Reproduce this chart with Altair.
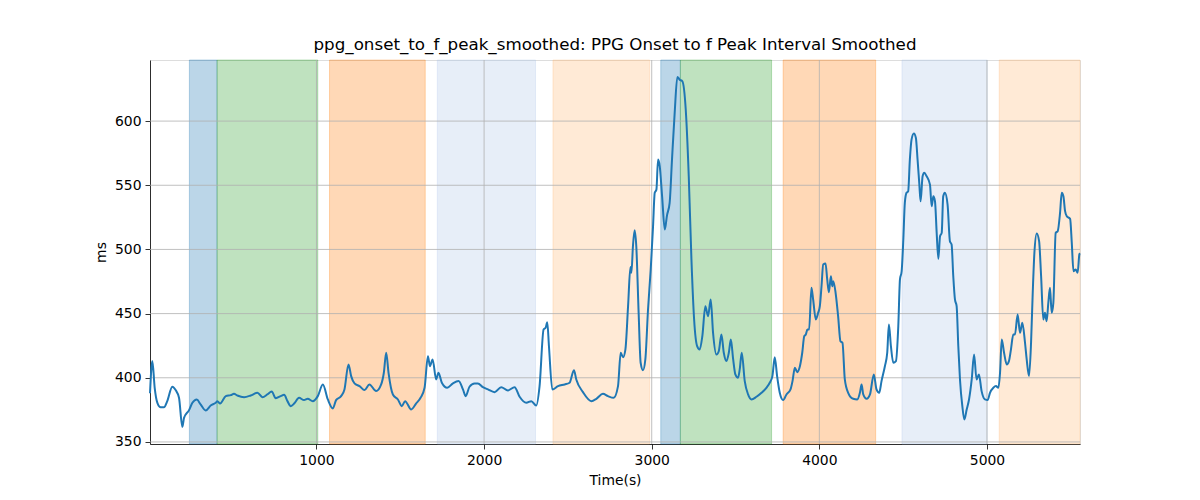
import altair as alt
import pandas as pd

# ---- line data (Time(s), ms) ----
t1 = [7, 21, 35, 51, 71, 90, 110, 140, 160, 180, 200, 210, 240, 260, 286, 309, 339, 369, 399, 409,
      425, 459, 489, 508, 528, 568, 608, 648, 678, 707, 733, 757, 787, 807, 827, 847, 867, 896, 926]
v1 = [388, 413, 392.2, 380.5, 377, 377, 381.8, 393, 390.4, 384.4, 361.8, 368.8, 374.8, 380.5, 383.1, 379.2, 374.5, 378.4, 380.5, 381.8,
      379.9, 385.7, 386.5, 387.5, 386.2, 384.9, 386.2, 388.3, 384.9, 387, 389.3, 384.1, 385.7, 386.7, 381.8, 377.9, 379.9, 384.4, 382.6]

t2 = [948, 978, 1008, 1038, 1068, 1098, 1117, 1147, 1167, 1191, 1207, 1227, 1257, 1287, 1316, 1356, 1386, 1402, 1416, 1430,
      1456, 1486, 1509, 1529, 1565, 1595, 1621, 1645, 1665, 1677, 1693, 1714, 1728, 1748, 1780, 1814, 1848, 1874]
v2 = [383.6, 381.8, 385.7, 394.8, 383.1, 376.1, 382.6, 385.7, 390.9, 410.4, 401.3, 395.6, 393.5, 390.4, 394.8, 389.6, 394.8, 403.9, 419.5, 403.9,
      387, 383.1, 377.9, 381.8, 375.3, 380, 384.4, 392.2, 416.8, 409, 414.3, 398.7, 403.9, 396.1, 392.2, 395.6, 397.4, 390.9]

t3 = [1890, 1913, 1943, 1963, 1993, 2023, 2063, 2102, 2142, 2182, 2212, 2252, 2282, 2311, 2331, 2355, 2367, 2377, 2387, 2407,
      2441, 2481, 2510, 2536, 2550, 2590, 2640, 2670, 2709, 2739, 2773]
v3 = [385.7, 393, 395.6, 395.6, 392.7, 390.9, 388.8, 392.7, 390.1, 392.7, 385.2, 380.5, 381.8, 378.4, 393.5, 437.6, 438.9, 443.3, 424.6, 390.9,
      393.5, 394.8, 396.1, 405.9, 398.7, 388.8, 381.8, 383.6, 387.5, 385.7, 384.4]

t4 = [2799, 2815, 2829, 2843, 2859, 2873, 2879, 2888, 2898, 2908, 2922, 2934, 2948, 2962, 2978, 2994, 3008, 3018, 3028, 3038,
      3048, 3062, 3078, 3091, 3107, 3121, 3137, 3153, 3167, 3183, 3203, 3221, 3237, 3253, 3271, 3286, 3302, 3320, 3336, 3352,
      3366, 3386, 3400, 3416, 3430, 3446, 3460, 3472, 3486, 3499, 3515, 3525, 3537, 3555, 3575, 3595, 3625, 3655, 3684]
v4 = [393.5, 419.5, 416, 422, 455.8, 486.4, 481.8, 502.5, 515, 502.5, 450.6, 411.7, 405.9, 414.3, 453.2, 484.3, 518.1, 544.1, 546.6, 570,
      564.8, 541.4, 515.5, 526.4, 536.3, 570, 606.4, 634.4, 632.3, 631, 609, 557, 492.1, 445.4, 424.6, 422, 432.4, 455.8, 448, 461,
      435, 418.1, 420.7, 433.7, 419.5, 413, 419.5, 429.8, 414.3, 402.6, 400, 406.5, 419.5, 397.4, 387, 383.1, 385.2, 388.3, 392.2]

t5 = [3704, 3720, 3734, 3748, 3764, 3784, 3804, 3828, 3840, 3854, 3868, 3884, 3898, 3910, 3919, 3929, 3939, 3953, 3963, 3979,
      3993, 4003, 4013, 4023, 4037, 4047, 4057, 4069, 4077, 4083, 4097, 4112, 4126, 4138, 4152, 4172, 4202, 4226, 4242, 4252,
      4262, 4282, 4302, 4325, 4341, 4357, 4371, 4391, 4405, 4415, 4427, 4441, 4457, 4471, 4481, 4491, 4501, 4510, 4520, 4530,
      4540, 4550, 4564, 4576, 4586, 4596, 4604, 4616, 4626, 4640]
v5 = [396.1, 401.3, 416, 401.3, 388.3, 382.6, 387, 390.9, 397.4, 407.8, 404.4, 409, 419.5, 432.4, 433.7, 437.6, 437.6, 470.1, 461, 445.4,
      450.6, 455.8, 471.3, 488.2, 489, 476.6, 466.7, 479.1, 471.3, 475.2, 466.2, 448, 428.5, 427.3, 398.7, 388.3, 383.6, 383.1, 388.3, 394.8,
      387, 383.6, 387, 402.6, 390.9, 388.3, 397.4, 409, 419.5, 441.5, 424.6, 411.7, 413, 440.2, 476.6, 483, 507.7, 536.3, 544.1, 545.3,
      570, 585.6, 590.3, 586.9, 570, 551.9, 537.5, 557, 559.7, 557]

t6 = [4660, 4670, 4680, 4690, 4700, 4710, 4720, 4730, 4739, 4749, 4765, 4779, 4789, 4799, 4809, 4819, 4829, 4839, 4853, 4865,
      4879, 4893, 4909, 4923, 4938, 4952, 4968, 4988, 5004, 5018, 5038, 5054, 5068, 5078, 5088, 5102, 5118, 5131, 5143, 5157,
      5167, 5183, 5197, 5211, 5227, 5237, 5251, 5263, 5273, 5283, 5297, 5311, 5323, 5336, 5346, 5356, 5366, 5376, 5386, 5396,
      5410, 5422, 5436, 5446, 5456, 5466, 5476, 5496, 5506, 5516, 5529, 5541, 5551, 5555]
v6 = [550.5, 533.6, 541.4, 537.5, 512.9, 492.7, 510.3, 512.9, 541.4, 544.1, 535, 506.4, 503.8, 479.1, 461, 455.8, 424.6, 398.7, 377.9, 367.5,
      375.3, 383.1, 398.7, 418.1, 398.7, 402.6, 389.6, 383.1, 382.6, 388.3, 392.2, 393.5, 392.2, 403.9, 429.8, 419.5, 410.4, 413, 422, 433.7,
      433.7, 449.3, 435, 442.8, 427.3, 414.3, 401.3, 427.3, 466.2, 497.4, 512.4, 506.4, 479.1, 445.4, 450.6, 444.1, 458.4, 470.1, 450.6, 458.4,
      512.9, 514.2, 528.5, 544.1, 541.4, 529.8, 525.9, 523.8, 505.1, 483, 484.3, 481.8, 496, 497]

time_s = t1 + t2 + t3 + t4 + t5 + t6
ms_vals = v1 + v2 + v3 + v4 + v5 + v6

# ---- shaded spans ----
span_start = [242, 407, 1078, 1721, 2411, 3054, 3171, 3784, 4493, 5073]
span_end = [407, 1008, 1649, 2307, 2988, 3171, 3715, 4336, 5002, 5555]
span_kind = ["k1", "k2", "k3", "k4", "k5", "k1", "k2", "k3", "k4", "k5"]
kind_names = ["k1", "k2", "k3", "k4", "k5"]
kind_colors = ["#1f77b4", "#2ca02c", "#ff7f0e", "#aec7e8", "#ffbb78"]

x_ticks = [1000, 2000, 3000, 4000, 5000]
y_ticks = [350, 400, 450, 500, 550, 600]
x_domain = [7, 5555]
y_domain = [348.4, 647.6]

line_df = pd.DataFrame({"t": time_s, "v": ms_vals})
span_df = pd.DataFrame({"t": span_start, "end": span_end, "kind": span_kind})
xg_df = pd.DataFrame({"t": x_ticks})
yg_df = pd.DataFrame({"v": y_ticks})

FONT = "DejaVu Sans"
xs = alt.Scale(domain=x_domain, nice=False, zero=False)
ys = alt.Scale(domain=y_domain, nice=False, zero=False)

axis_common = dict(
    grid=False, domain=True, domainColor="black", domainWidth=0.8,
    tickColor="black", tickWidth=0.8, tickSize=5,
    labelColor="black", labelFont=FONT, labelFontSize=13.9, labelPadding=4,
    titleFont=FONT, titleFontSize=13.9, titleFontWeight="normal", titleColor="black",
    format="d",
)
x_axis = alt.Axis(values=x_ticks, title="Time(s)", titlePadding=7, **axis_common)
y_axis = alt.Axis(values=y_ticks, title="ms", titlePadding=6, **axis_common)

X = alt.X("t:Q", scale=xs, axis=x_axis)
Y = alt.Y("v:Q", scale=ys, axis=y_axis)

spans = alt.Chart(span_df).mark_rect(fillOpacity=0.3, strokeOpacity=0.3, strokeWidth=1).encode(
    x=X,
    x2="end:Q",
    y=alt.value(0),
    y2=alt.value(384),
    fill=alt.Fill("kind:N", scale=alt.Scale(domain=kind_names, range=kind_colors), legend=None),
    stroke=alt.Stroke("kind:N", scale=alt.Scale(domain=kind_names, range=kind_colors), legend=None),
)

xgrid = alt.Chart(xg_df).mark_rule(color="#b0b0b0", strokeWidth=0.8).encode(x=X)
ygrid = alt.Chart(yg_df).mark_rule(color="#b0b0b0", strokeWidth=0.8).encode(y=Y)

line = alt.Chart(line_df).mark_line(color="#1f77b4", strokeWidth=2, interpolate="monotone").encode(
    x=X,
    y=Y,
)

chart = alt.layer(spans, xgrid, ygrid, line).properties(
    width=930,
    height=384,
    autosize=alt.AutoSizeParams(type="none"),
    padding={"left": 142, "top": 52, "right": 110, "bottom": 56},
    title=alt.TitleParams(
        "ppg_onset_to_f_peak_smoothed: PPG Onset to f Peak Interval Smoothed",
        font=FONT, fontSize=16.7, fontWeight="normal", color="black",
        anchor="middle", frame="group", offset=6,
    ),
).configure_view(stroke="black", strokeWidth=1).configure(background="white")

chart.save("out.html", embed_options={"renderer": "svg", "actions": False})
